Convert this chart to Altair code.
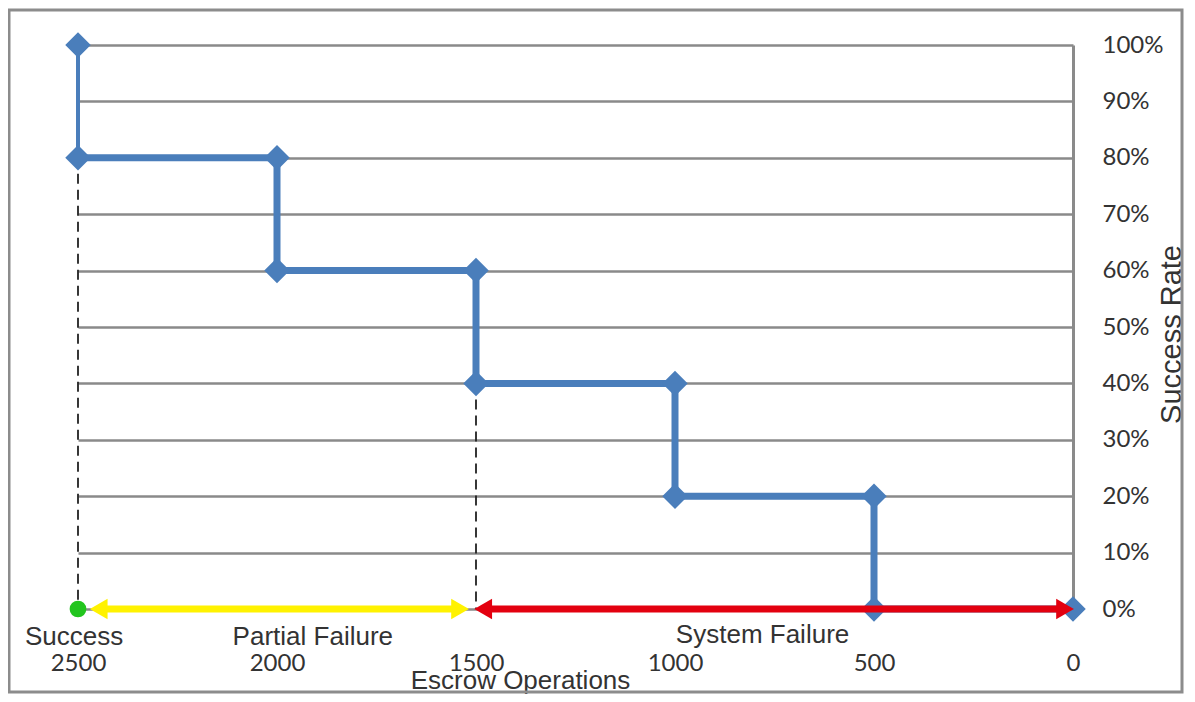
import altair as alt
import pandas as pd

# Step series: escrow operations (x) vs success rate (y)
ops = [2500, 2500, 2000, 2000, 1500, 1500, 1000, 1000, 500, 500, 0]
rate = [1.0, 0.8, 0.8, 0.6, 0.6, 0.4, 0.4, 0.2, 0.2, 0.0, 0.0]

# dashed guide lines
guide_x = [2500, 1500]
guide_top = [0.8, 0.4]

# outcome zones (arrows along 0%)
zone_names = ["Partial Failure", "System Failure"]
zone_start = [2448, 1482]
zone_end = [1540, 20]
zone_colors = ["#FFF200", "#E3000F"]

# zone labels
label_names = ["Success", "Partial Failure", "System Failure"]
label_x = [2510, 1910, 780]

x_ticks = [0, 500, 1000, 1500, 2000, 2500]
y_ticks = [0, 0.1, 0.2, 0.3, 0.4, 0.5, 0.6, 0.7, 0.8, 0.9, 1.0]

W, H = 995, 564
BLUE = "#4A7EBB"
GRID = "#8A8A8A"
TXT = "#333333"
ARIAL = "Liberation Sans"

df = pd.DataFrame({"ops": ops, "rate": rate, "idx": list(range(len(ops)))})
gd = pd.DataFrame({"ops": guide_x, "top": guide_top, "bottom": [0.0] * len(guide_x)})
zd = pd.DataFrame({"zone": zone_names, "start": zone_start, "end": zone_end,
                   "color": zone_colors, "zero": [0.0] * len(zone_names)})
ld = pd.DataFrame({"label": label_names, "ops": label_x, "zero": [0.0] * 3})

xs = alt.Scale(domain=[0, 2500], reverse=True, nice=False)
ys = alt.Scale(domain=[0, 1], nice=False)

x_axis = alt.Axis(values=x_ticks, format="d", grid=False, domain=False, ticks=False,
                  tickSize=0, labelPadding=61, labelBaseline="alphabetic",
                  labelFont="Lato", labelFontSize=24, labelColor=TXT,
                  labelFlush=False, labelOverlap=False,
                  title="Escrow Operations", titleFont=ARIAL, titleFontSize=26,
                  titleFontWeight="normal", titleColor=TXT,
                  titleX=442, titleY=79, titleAlign="center", titleBaseline="alphabetic")
y_axis = alt.Axis(orient="right", values=y_ticks, format=".0%", grid=True,
                  gridColor=GRID, gridWidth=2.5, domain=True, domainColor=GRID,
                  domainWidth=3, ticks=False, tickSize=0, labelPadding=29,
                  labelFont="Lato", labelFontSize=24, labelColor=TXT,
                  labelFlush=False, labelOverlap=False,
                  title="Success Rate", titleFont=ARIAL, titleFontSize=29,
                  titleFontWeight="normal", titleColor=TXT, titleAngle=270,
                  titleX=98, titleY=289, titleAlign="center", titleBaseline="middle")

base = alt.Chart(df)

border = alt.Chart(pd.DataFrame({"a": [0]})).mark_rect(
    fill=None, stroke="#8C8C8C", strokeWidth=3
).encode(x=alt.value(-69), x2=alt.value(W + 109), y=alt.value(-35), y2=alt.value(H + 83))

grid_layer = base.mark_point(opacity=0).encode(
    x=alt.X("ops:Q", scale=xs, axis=x_axis),
    y=alt.Y("rate:Q", scale=ys, axis=y_axis),
)

guides = alt.Chart(gd).mark_rule(color="#222222", strokeWidth=1.8, strokeDash=[10, 6]).encode(
    x=alt.X("ops:Q", scale=xs), y=alt.Y("top:Q", scale=ys), y2="bottom:Q"
)

thin = base.transform_filter("datum.idx <= 1").mark_line(color=BLUE, strokeWidth=4).encode(
    x=alt.X("ops:Q", scale=xs), y=alt.Y("rate:Q", scale=ys), order="idx:Q"
)
thick = base.transform_filter("datum.idx >= 1").mark_line(
    color=BLUE, strokeWidth=7, strokeJoin="miter", strokeCap="butt"
).encode(x=alt.X("ops:Q", scale=xs), y=alt.Y("rate:Q", scale=ys), order="idx:Q")
diamonds = base.mark_point(shape="diamond", filled=True, size=650, color=BLUE, opacity=1).encode(
    x=alt.X("ops:Q", scale=xs), y=alt.Y("rate:Q", scale=ys)
)

arrow_lines = alt.Chart(zd).mark_rule(strokeWidth=7).encode(
    x=alt.X("start:Q", scale=xs), x2="end:Q", y=alt.Y("zero:Q", scale=ys),
    color=alt.Color("color:N", scale=None)
)
head_left = alt.Chart(zd).mark_point(shape="triangle-left", filled=True, size=420, opacity=1).encode(
    x=alt.X("start:Q", scale=xs), y=alt.Y("zero:Q", scale=ys),
    color=alt.Color("color:N", scale=None)
)
head_right = alt.Chart(zd).mark_point(shape="triangle-right", filled=True, size=420, opacity=1).encode(
    x=alt.X("end:Q", scale=xs), y=alt.Y("zero:Q", scale=ys),
    color=alt.Color("color:N", scale=None)
)
success_dot = alt.Chart(ld).transform_filter("datum.label == 'Success'").mark_point(
    shape="circle", filled=True, size=280, color="#22C51E", opacity=1
).encode(x=alt.value(0), y=alt.Y("zero:Q", scale=ys))

labels_a = alt.Chart(ld).transform_filter("datum.label != 'System Failure'").mark_text(
    font=ARIAL, fontSize=26, color=TXT, baseline="alphabetic", align="center", dy=36
).encode(x=alt.X("ops:Q", scale=xs), y=alt.Y("zero:Q", scale=ys), text="label:N")
labels_b = alt.Chart(ld).transform_filter("datum.label == 'System Failure'").mark_text(
    font=ARIAL, fontSize=26, color=TXT, baseline="alphabetic", align="center", dy=34
).encode(x=alt.X("ops:Q", scale=xs), y=alt.Y("zero:Q", scale=ys), text="label:N")

chart = alt.layer(
    border, grid_layer, guides, thin, thick, diamonds,
    arrow_lines, head_left, head_right, success_dot, labels_a, labels_b
).properties(
    width=W, height=H,
    autosize=alt.AutoSizeParams(type="none"),
    padding={"left": 70, "top": 37, "right": 113, "bottom": 85},
    background="white",
).configure_view(strokeWidth=0)

chart.save("out.html", embed_options={"renderer": "svg", "actions": False})
